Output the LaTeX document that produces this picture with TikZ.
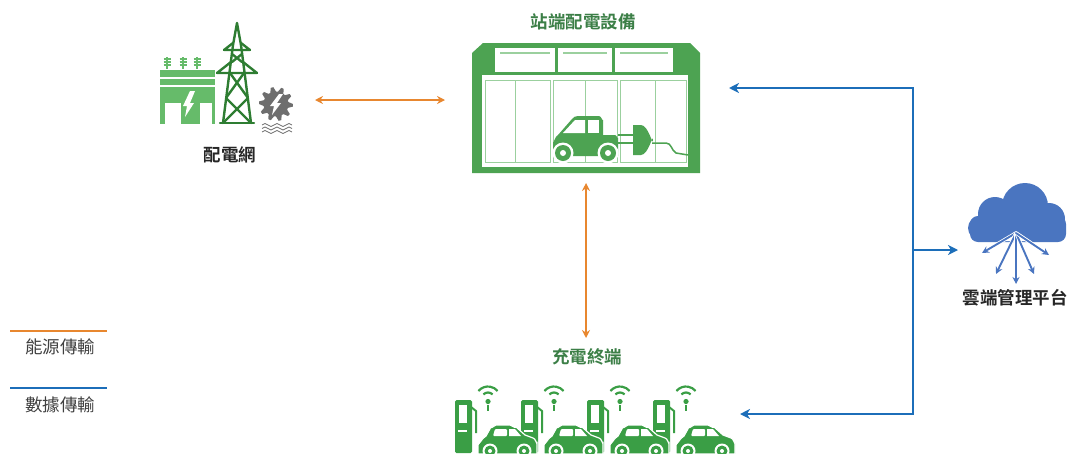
\documentclass[tikz,border=0pt]{standalone}
\usepackage{fontspec}
\newfontfamily\cjk{Noto Sans CJK TC}[BoldFont={Noto Sans CJK TC Bold}]
\usetikzlibrary{arrows.meta,calc}

\definecolor{energyc}{HTML}{E8872F}
\definecolor{datac}{HTML}{1C6EB9}
\definecolor{titlegreen}{HTML}{3C7F47}
\definecolor{stgreen}{HTML}{4DA352}
\definecolor{stlight}{HTML}{9BD09E}
\definecolor{chgreen}{HTML}{3A9E45}
\definecolor{bldgreen}{HTML}{66BB6A}
\definecolor{towergreen}{HTML}{2E7D32}
\definecolor{gearc}{HTML}{6E6E6E}
\definecolor{cloudc}{HTML}{4A75C0}

\tikzset{
  energy/.style={draw=energyc, line width=1.6pt,
    {Stealth[length=8pt,width=8pt]}-{Stealth[length=8pt,width=8pt]}},
  datalink/.style={draw=datac, line width=2.8pt, line join=miter,
    {Stealth[length=10pt,width=10pt,inset=3pt]}-{Stealth[length=10pt,width=10pt,inset=3pt]}},
  dataone/.style={draw=datac, line width=2.8pt,
    -{Stealth[length=10pt,width=10pt,inset=3pt]}},
  titletext/.style={font=\cjk\bfseries\fontsize{17.5}{20}\selectfont, text=titlegreen},
  labeltext/.style={font=\cjk\bfseries\fontsize{17.5}{20}\selectfont, text=black!85},
  legendtext/.style={font=\cjk\fontsize{17.5}{20}\selectfont, text=black!75},
  iconbox/.style={draw=none, inner sep=0pt, outer sep=0pt},
}

\begin{document}
\begin{tikzpicture}[x=1pt,y=-1pt]
\useasboundingbox (0,0) rectangle (1073,453);

% ---------- icon frames ----------
\node[iconbox, minimum width=166, minimum height=154] (grid) at (232,100) {};
\node[iconbox, minimum width=228, minimum height=130] (station) at (586,108) {};
\node[iconbox, minimum width=280, minimum height=108] (chargers) at (586,399) {};
\node[iconbox, minimum width=96, minimum height=100] (cloud) at (1016,233) {};

% ---------- power grid ----------
% substation building
\fill[bldgreen] (160,70) rectangle (215,77);
\fill[bldgreen] (160,79) rectangle (215,85);
\fill[bldgreen] (160,87) rectangle (215,124);
\fill[white] (165,103) rectangle (181,124);
\fill[white] (200,103) rectangle (212,124);
\fill[white] (190,91) -- (195,91) -- (190,103) -- (194,103) -- (185,117) -- (187,106) -- (183,106) -- cycle;
% insulators on the roof
\foreach \x in {167,183,197}{
  \draw[bldgreen, line width=1.4pt] (\x,57) -- (\x,69);
  \foreach \y in {59,62,65}{\draw[bldgreen, line width=1.3pt] (\x-3.5,\y) -- (\x+3.5,\y);}
}
% transmission tower
\begin{scope}[towergreen, line width=2.4pt, line cap=round, line join=round]
  \draw (237,23) -- (233,45) (237,23) -- (241,45);
  \draw (233,45) -- (223,123) (241,45) -- (251,123);
  \draw (224,50) -- (250,50) (224,50) -- (233,43) (250,50) -- (241,43);
  \draw (217,73) -- (257,73) (217,73) -- (231,62) (257,73) -- (243,62);
  \draw (232,54) -- (242,62) (242,54) -- (232,62);
  \draw (230,73) -- (248,98) (244,73) -- (226,98);
  \draw (226,98) -- (251,123) (248,98) -- (223,123);
  \draw (220,123) -- (254,123);
\end{scope}
% generator gear with bolt and waves
\fill[gearc] plot[samples=40, domain=0:39, variable=\k]
  ({276 + (mod(round(\k),4)<2 ? 17 : 12.5)*cos(\k*9)},
   {104 + (mod(round(\k),4)<2 ? 17 : 12.5)*sin(\k*9)}) -- cycle;
\fill[white] (279,94) -- (283,94) -- (277,103) -- (281,103) -- (272,115) -- (274,106) -- (270,106) -- cycle;
\foreach \y in {125,128.5,132}{
  \draw[gearc, line width=0.8pt] (262,\y) sin (265,\y-1.5) cos (268,\y) sin (271,\y+1.5) cos (274,\y)
     sin (277,\y-1.5) cos (280,\y) sin (283,\y+1.5) cos (286,\y) sin (289,\y-1.5) cos (292,\y);
}
\node[labeltext] (gridlabel) at (230,155) {配電網};

% ---------- station equipment ----------
\node[titletext] (stationlabel) at (583,22) {站端配電設備};
\fill[stgreen] (483,43) -- (690,43) -- (700,53) -- (700,173) -- (472,173) -- (472,53) -- cycle;
\foreach \a/\b in {495/555,558/612,615/673}{
  \fill[white] (\a,48) rectangle (\b,72);
  \draw[stlight, line width=1.8pt] (\a+5,53) -- (\b-5,53);
}
\fill[white] (482,75) rectangle (688,167);
\begin{scope}[stlight, line width=0.9pt]
  \draw (485,80) rectangle (550,162) (515,80) -- (515,162);
  \draw (553,80) rectangle (617,162) (585,80) -- (585,162);
  \draw (620,80) rectangle (686,162) (655,80) -- (655,162);
\end{scope}
% car
\fill[stgreen] (553,156) -- (553,142) to[out=-90,in=200] (558,135) -- (572,119)
  to[out=50,in=180] (578,116) -- (599,116) to[out=0,in=-90] (603,120) -- (603,135) -- (615,135)
  to[out=0,in=-90] (618,138) -- (618,156) -- cycle;
\fill[white] (563,133) -- (575,120) -- (585,120) -- (585,133) -- cycle;
\fill[white] (588,120) -- (599,120) -- (599,133) -- (588,133) -- cycle;
\foreach \cx in {563,608}{
  \fill[white] (\cx,153) circle (10.5);
  \fill[stgreen] (\cx,153) circle (8);
  \fill[white] (\cx,153) circle (3);
}
% plug and cable
\draw[stgreen, line width=2.4pt] (618,135) -- (634,135) (618,143) -- (634,143);
\fill[stgreen] (633,125) -- (641,125) to[out=0,in=-90] (653,140) to[out=90,in=0] (641,155) -- (633,155) -- cycle;
\draw[stgreen, line width=1.5pt] (652,143) -- (666,143) to[out=0,in=150] (676,153) -- (688,155);

% ---------- charging terminals ----------
\node[titletext] (chargerlabel) at (587,357) {充電終端};
\foreach \i in {0,...,3}{
  \begin{scope}[xshift=\i*66pt]
    % post
    \fill[chgreen, rounded corners=1.5pt] (455,400) rectangle (472,453);
    \fill[white] (459,405) rectangle (467,423);
    \fill[white] (458,429.5) rectangle (467,431.5);
    \draw[chgreen, line width=2pt] (471,407) -- (476,411) -- (476,433);
    % wireless signal
    \draw[chgreen, line width=2.2pt] ($(488,399)+(220:12.5)$) arc (220:320:12.5);
    \draw[chgreen, line width=2.2pt] ($(488,399)+(225:6.5)$) arc (225:315:6.5);
    \fill[chgreen] (488,401.5) circle (2.6);
    \draw[chgreen, line width=1.8pt] (488,405) -- (488,411);
  \end{scope}
}
\foreach \i in {0,...,3}{
  \begin{scope}[xshift=\i*66pt]
    \filldraw[fill=chgreen, draw=white, line width=1.2pt]
      (478,454) -- (478,443) to[out=-90,in=200] (486,436) -- (491,427) to[out=-70,in=180] (496,425)
      -- (510,425) to[out=0,in=-140] (516,427) -- (525,435) -- (533,438) to[out=0,in=-90] (537,443)
      -- (537,454) -- cycle;
    \fill[white, rounded corners=1pt] (495,429) -- (507,429) -- (507,436) -- (493,436) -- cycle;
    \fill[white] (509,429) -- (515,429) -- (521,436) -- (509,436) -- cycle;
    \foreach \cx in {490,524}{
      \fill[white] (\cx,451) circle (7.5);
      \fill[chgreen] (\cx,451) circle (5.5);
      \fill[white] (\cx,451) circle (2);
    }
  \end{scope}
}

% ---------- cloud platform ----------
\fill[cloudc] (1025,206) circle (23) (995,214) circle (17) (980,228) circle (12)
  (1049,219) circle (16) (1056,231) circle (10);
\fill[cloudc, rounded corners=8pt] (970,216) rectangle (1066,242);
\fill[white] (1002,241) -- (1016,231) -- (1031,241) -- cycle;
\foreach \ex/\ey in {982/253,996/274,1016/284,1034/274,1049/255}{
  \draw[white, line width=3.5pt] (1016,233) -- ($(1016,233)!0.6!(\ex,\ey)$);
  \draw[cloudc, line width=1.9pt, -{Stealth[length=7pt,width=7pt]}] (1016,233) -- (\ex,\ey);
}
\node[labeltext] (cloudlabel) at (1015,298) {雲端管理平台};

% ---------- connectors ----------
\draw[energy] (grid.east) -- ($(grid.east -| station.west)+(-27,0)$);
\draw[energy] ($(station.south)+(0,10)$) -- ($(chargers.north)+(0,-7)$);

\coordinate (busTop) at (913,88);
\coordinate (busBot) at (913,414);
\coordinate (hub) at (913,250);
\draw[datalink] ($(station.east |- busTop)+(29,0)$) -- (busTop) -- (busBot)
  -- ($(chargers.east |- busBot)+(14,0)$);
\draw[dataone] (hub) -- ($(cloud.west |- hub)+(-10,0)$);

% ---------- legend ----------
\coordinate (legA1) at (10,331);
\coordinate (legA2) at (107,331);
\coordinate (legB1) at (10,388);
\coordinate (legB2) at (107,388);
\draw[energyc, line width=1.6pt] (legA1) -- (legA2);
\draw[datac, line width=2.2pt] (legB1) -- (legB2);
\node[legendtext] (legA) at (60,347) {能源傳輸};
\node[legendtext] (legB) at (60,405) {數據傳輸};
\end{tikzpicture}
\end{document}
